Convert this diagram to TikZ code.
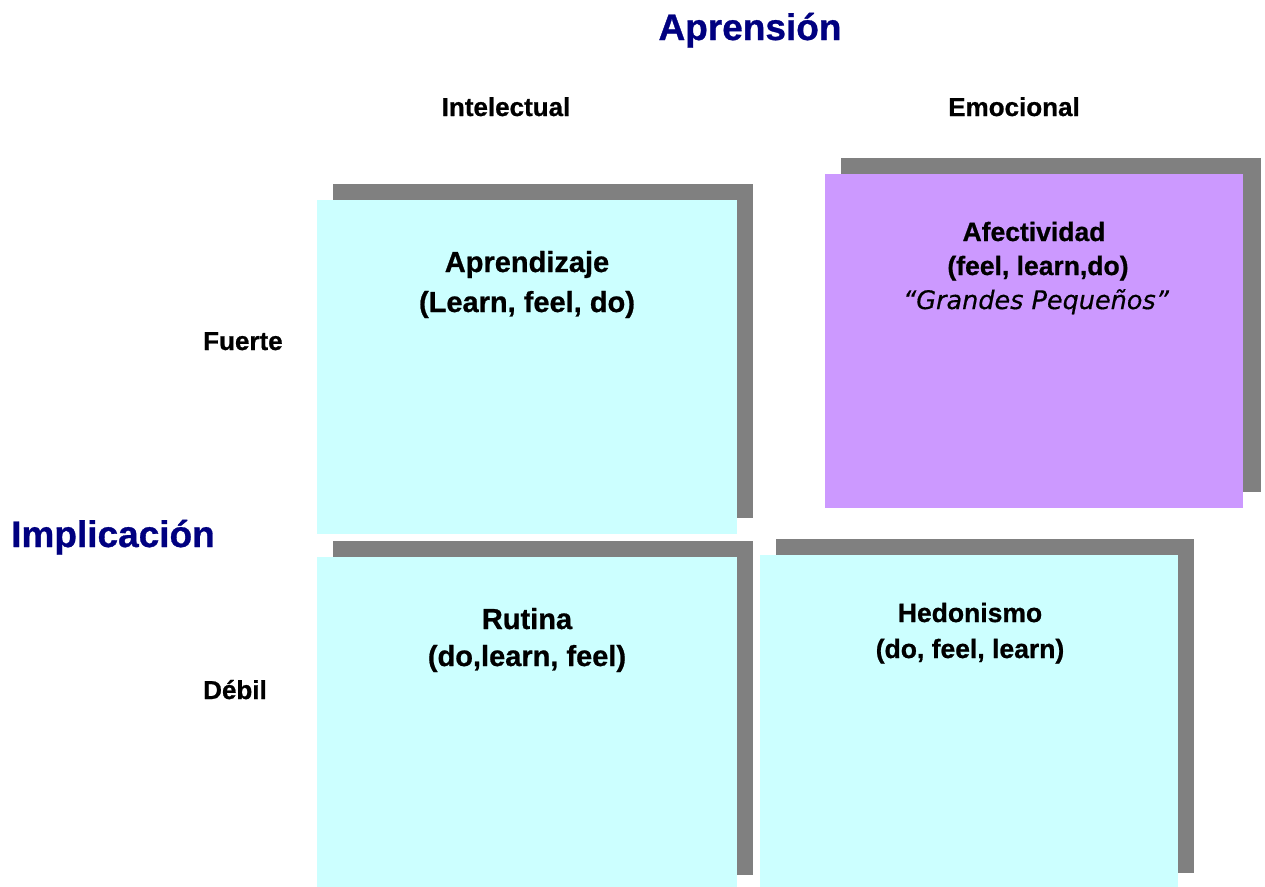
\documentclass[tikz,border=0pt]{standalone}
\usepackage{fontspec}
\setmainfont{Liberation Sans}[BoldFeatures={FakeBold=0.8}]
\newfontfamily\quotefont{DejaVu Sans}[ItalicFeatures={FakeBold=0.5}]
\definecolor{paleCyan}{HTML}{CCFFFF}
\definecolor{lilac}{HTML}{CC99FF}
\definecolor{shadowGray}{HTML}{808080}
\definecolor{axisNavy}{HTML}{000080}
\newcommand{\fs}[1]{\fontsize{#1}{#1}\selectfont}
\begin{document}
\begin{tikzpicture}[x=1pt,y=-1pt,
  panel/.style={anchor=north west,inner sep=0pt,outer sep=0pt,draw=none},
  shade/.style={panel,fill=shadowGray},
  axistitle/.style={inner sep=0pt,text=axisNavy,font=\fs{37}\bfseries},
  axislabel/.style={inner sep=0pt,anchor=base,font=\fs{26}\bfseries},
  cellbig/.style={inner sep=0pt,anchor=base,font=\fs{29}\bfseries},
  cellsmall/.style={inner sep=0pt,anchor=base,font=\fs{26.5}\bfseries}]
\useasboundingbox (0,0) rectangle (1265,886);

% shadows behind the four quadrants
\node[shade,minimum width=420pt,minimum height=334pt] (s1) at (333,184) {};
\node[shade,minimum width=420pt,minimum height=334pt] (s2) at (841,158) {};
\node[shade,minimum width=420pt,minimum height=334pt] (s3) at (333,541) {};
\node[shade,minimum width=418pt,minimum height=334pt] (s4) at (776,539) {};

% quadrants
\node[panel,fill=paleCyan,minimum width=420pt,minimum height=334pt] (q1) at (317,200) {};
\node[panel,fill=lilac,minimum width=418pt,minimum height=334pt] (q2) at (825,174) {};
\node[panel,fill=paleCyan,minimum width=420pt,minimum height=330pt] (q3) at (317,557) {};
\node[panel,fill=paleCyan,minimum width=418pt,minimum height=332pt] (q4) at (760,555) {};

% axis titles
\node[axistitle,anchor=base] (apr) at (750,40) {Aprensión};
\node[axistitle,anchor=base west] (imp) at (11,547) {Implicación};

% column and row labels
\node[axislabel] (intel) at (506,116) {Intelectual};
\node[axislabel] (emoc) at (1014,116) {Emocional};
\node[axislabel,anchor=base west] (fuerte) at (203,350) {Fuerte};
\node[axislabel,anchor=base west] (debil) at (203,699) {Débil};

% quadrant texts
\node[cellbig] (t1a) at (527,272) {Aprendizaje};
\node[cellbig] (t1b) at (527,312) {(Learn, feel, do)};

\node[cellsmall] (t2a) at (1034,241) {Afectividad};
\node[cellsmall] (t2b) at (1038,275) {(feel, learn,do)};
\node[inner sep=0pt,anchor=base,font=\quotefont\itshape\fs{25.5}] (t2c) at (1036,309) {“Grandes Pequeños”};

\node[cellbig] (t3a) at (527,629) {Rutina};
\node[cellbig] (t3b) at (527,666) {(do,learn, feel)};

\node[cellsmall] (t4a) at (970,622) {Hedonismo};
\node[cellsmall] (t4b) at (970,658) {(do, feel, learn)};
\end{tikzpicture}
\end{document}
